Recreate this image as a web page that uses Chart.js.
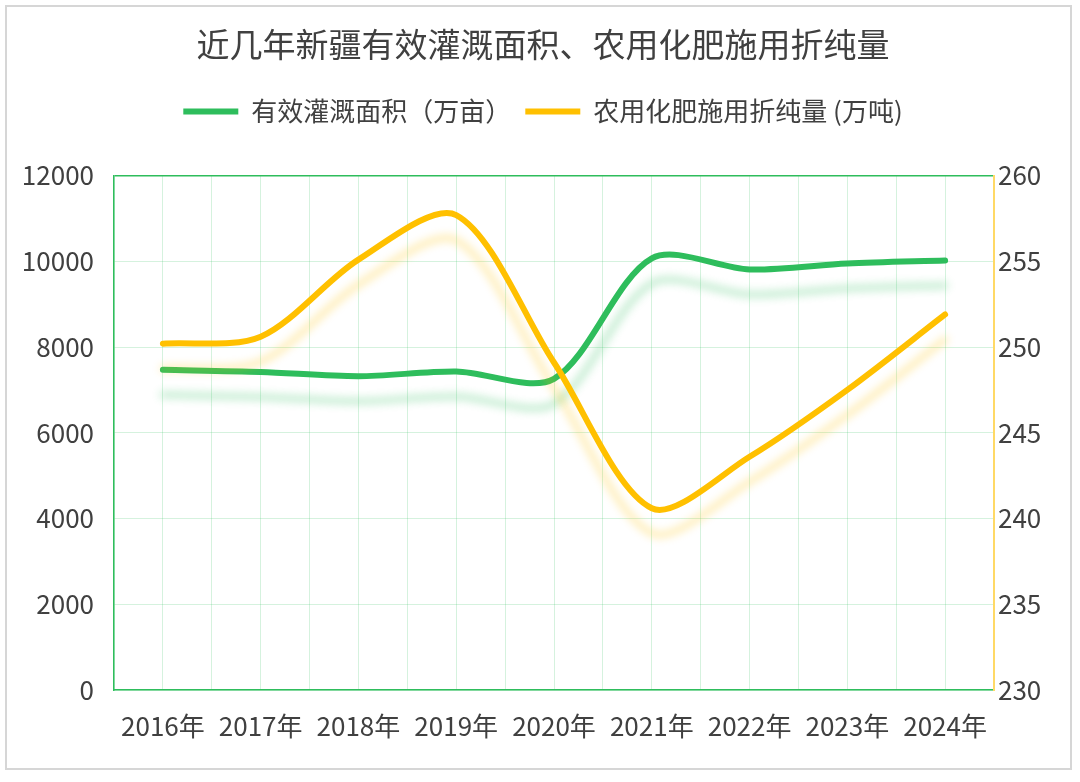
<!DOCTYPE html>
<html>
<head>
<meta charset="utf-8">
<script src="https://cdn.jsdelivr.net/npm/chart.js@4.4.1/dist/chart.umd.min.js"></script>
<style>
  html, body { margin: 0; padding: 0; background: #fff; }
  body { width: 1080px; height: 782px; position: relative; overflow: hidden; }
  #frame { position: absolute; left: 5px; top: 5px; width: 1063px; height: 761px; border: 2px solid #d6d6d6; }
  #wrap { position: absolute; left: 0; top: 0; width: 1080px; height: 782px; }
</style>
</head>
<body>
<div id="frame"></div>
<div id="wrap"><canvas id="chart" width="1080" height="782"></canvas></div>
<script>
  const years = ['2016年', '2017年', '2018年', '2019年', '2020年', '2021年', '2022年', '2023年', '2024年'];
  const irrigated = [7470, 7420, 7320, 7430, 7260, 10070, 9810, 9950, 10020];   // 万亩
  const fertilizer = [250.2, 250.6, 255.1, 257.7, 249.1, 240.6, 243.6, 247.5, 251.9]; // 万吨
  const leftTicks = [0, 2000, 4000, 6000, 8000, 10000, 12000];
  const rightTicks = [230, 235, 240, 245, 250, 255, 260];

  const GREEN = '#2ebd5c';
  const YELLOW = '#ffc000';
  const TEXT = '#404040';
  const GRID = 'rgba(46, 189, 92, 0.2)';
  const FONT = '"Noto Sans CJK SC", "Noto Sans", sans-serif';

  // soft offset shadow under each line
  const lineShadow = {
    id: 'lineShadow',
    beforeDatasetDraw(chart, args) {
      const ds = chart.data.datasets[args.index];
      const ctx = chart.ctx;
      ctx.save();
      ctx.shadowColor = ds.shadowColor;
      ctx.shadowBlur = 8;
      ctx.shadowOffsetX = 0;
      ctx.shadowOffsetY = 25;
    },
    afterDatasetDraw(chart) {
      chart.ctx.restore();
    }
  };

  // extra room between legend and plot
  const legendGap = {
    id: 'legendGap',
    beforeInit(chart) {
      const fit = chart.legend.fit;
      chart.legend.fit = function() {
        fit.bind(chart.legend)();
        this.height += 41;
      };
    }
  };

  const ctx = document.getElementById('chart').getContext('2d');
  new Chart(ctx, {
    type: 'line',
    data: {
      labels: years,
      datasets: [
        {
          label: '有效灌溉面积（万亩）',
          data: irrigated,
          yAxisID: 'y',
          borderColor: GREEN,
          backgroundColor: GREEN,
          shadowColor: 'rgba(46, 189, 92, 0.32)',
          borderWidth: 6,
          borderCapStyle: 'round',
          pointRadius: 0,
          tension: 0.3,
          order: 2
        },
        {
          label: '农用化肥施用折纯量 (万吨)',
          data: fertilizer,
          yAxisID: 'y1',
          borderColor: YELLOW,
          backgroundColor: YELLOW,
          shadowColor: 'rgba(255, 192, 0, 0.32)',
          borderWidth: 6,
          borderCapStyle: 'round',
          pointRadius: 0,
          tension: 0.3,
          order: 1
        }
      ]
    },
    options: {
      responsive: false,
      animation: false,
      layout: { padding: { left: 16, right: 10, top: 10, bottom: 20 } },
      scales: {
        x: {
          type: 'category',
          offset: true,
          grid: { offset: true, color: GRID, drawTicks: false },
          border: { color: GREEN, width: 1.5 },
          ticks: { color: TEXT, font: { family: FONT, size: 26 }, padding: 21, maxRotation: 0, autoSkip: false },
          afterFit: s => { s.height = 72; }
        },
        xc: {
          type: 'category',
          position: 'bottom',
          offset: true,
          grid: { offset: false, color: GRID, drawTicks: false },
          border: { display: false },
          ticks: { display: false },
          afterFit: s => { s.height = 0; }
        },
        y: {
          position: 'left',
          min: 0,
          max: 12000,
          afterBuildTicks: s => { s.ticks = leftTicks.map(v => ({ value: v })); },
          grid: {
            color: c => c.tick && c.tick.value === 12000 ? GREEN : GRID,
            lineWidth: c => c.tick && c.tick.value === 12000 ? 1.5 : 1,
            drawTicks: false
          },
          border: { color: GREEN, width: 1.5 },
          ticks: { color: TEXT, font: { family: FONT, size: 26 }, padding: 20, callback: v => String(v) },
          afterFit: s => { s.width = 98; }
        },
        y1: {
          position: 'right',
          min: 230,
          max: 260,
          afterBuildTicks: s => { s.ticks = rightTicks.map(v => ({ value: v })); },
          grid: { display: false, drawTicks: false },
          border: { color: '#ffd966', width: 2 },
          ticks: { color: TEXT, font: { family: FONT, size: 26 }, padding: 4 },
          afterFit: s => { s.width = 76; }
        }
      },
      plugins: {
        title: {
          display: true,
          text: '近几年新疆有效灌溉面积、农用化肥施用折纯量',
          color: TEXT,
          font: { family: FONT, size: 33, weight: 'normal' },
          padding: { top: 15, bottom: 20 }
        },
        legend: {
          position: 'top',
          labels: {
            color: TEXT,
            font: { family: FONT, size: 26 },
            usePointStyle: true,
            pointStyle: 'line',
            pointStyleWidth: 55,
            boxHeight: 26,
            padding: 14,
            sort: (a, b) => a.datasetIndex - b.datasetIndex
          }
        },
        tooltip: { enabled: false }
      }
    },
    plugins: [lineShadow, legendGap]
  });
</script>
</body>
</html>
